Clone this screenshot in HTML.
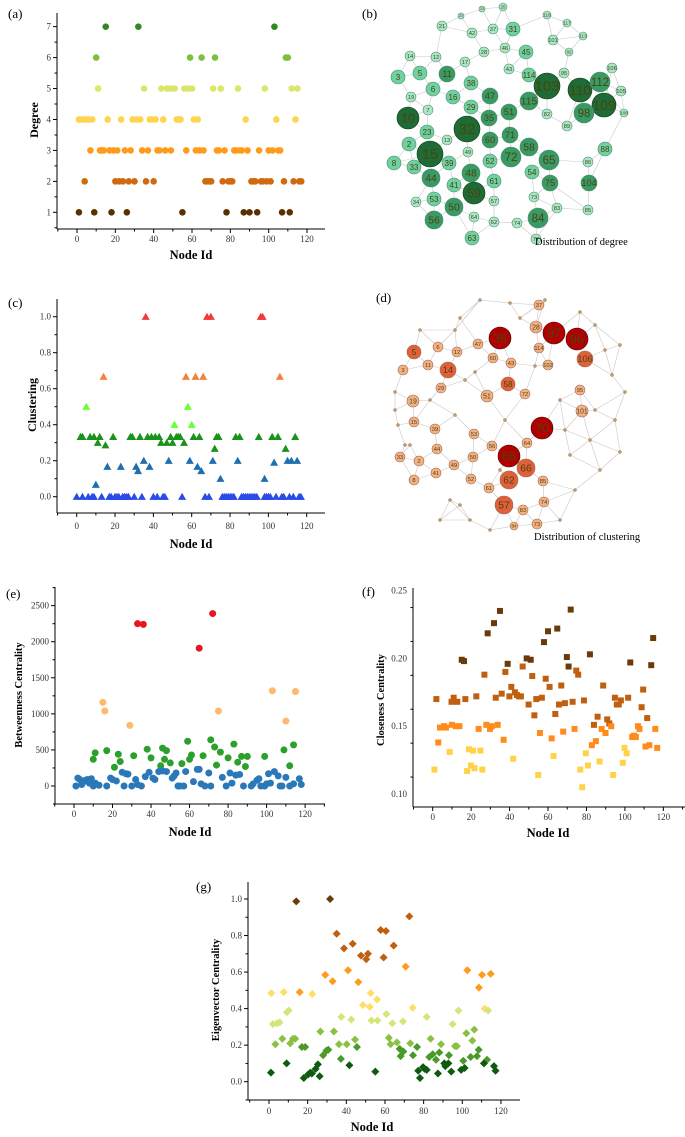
<!DOCTYPE html>
<html><head><meta charset="utf-8">
<style>
html,body{margin:0;padding:0;background:#fff;}
svg{display:block;font-family:"Liberation Serif",serif;}
</style></head>
<body>
<svg id="fig" width="685" height="1137" viewBox="0 0 685 1137" xmlns="http://www.w3.org/2000/svg"></svg>
<script>
// ---------- Panel (a) degree ----------
const degX7=[15,32,103];
const degX6=[10,59,65,72,109,110];
const degX5=[11,35,44,47,49,51,56,58,60,71,75,84,98,112,115];
const degX4=[1,2,4,5,6,8,16,23,29,31,33,38,39,41,45,52,53,54,61,63,88,104,114];
const degX3=[7,12,13,14,17,19,21,25,28,34,37,42,43,46,49,57,62,64,66,73,74,77,82,83,85,86,89,95,100,102,105,106];
const degX2=[4,20,22,24,27,30,36,40,67,68,69,70,76,79,80,81,91,92,93,96,97,99,101,108,113,116,117];
const degX1=[1,9,18,26,55,78,87,90,94,107,111];
// ---------- Panel (c) clustering ----------
const clRedX=[36,68,70,96,97];
const clOrangeX=[14,57,62,66,106];
const clLimeX=[5,58,51,60];
const clLimeY=[0.5,0.5,0.4,0.4];
const clGreenX=[2,3,7,9,12,19,28,29,33,37,39,41,43,49,52,53,54,61,64,73,74,83,85,95,102,105,114,11,44,47,50,56,15,72,109];
const clGreenY=[.333,.333,.333,.333,.333,.333,.333,.333,.333,.333,.333,.333,.333,.333,.333,.333,.333,.333,.333,.333,.333,.333,.333,.333,.333,.333,.333,.3,.3,.3,.3,.3,.286,.267,.267];
const clBlueX=[10,16,23,31,38,63,32,65,35,48,59,71,84,110,112,115,75,98,103];
const clBlueY=[.067,.167,.167,.167,.167,.167,.143,.143,.2,.2,.2,.2,.2,.2,.2,.2,.1,.1,.19];
const clZeroX=[0,3,6,8,9,13,17,18,20,21,22,24,25,26,27,30,34,40,42,45,46,55,67,69,76,77,78,79,80,81,82,86,87,88,89,90,91,92,93,94,98,99,100,101,104,107,108,111,113,116,117];
// ---------- Panel (e) betweenness ----------
const btRedX=[33,36,65,72];
const btRedY=[2250,2240,1910,2390];
const btOrX=[15,16,29,75,103,110,115];
const btOrY=[1160,1040,840,1040,1320,900,1310];
const btGrX=[10,11,17,21,23,24,31,38,40,45,46,47,48,50,56,59,60,61,67,71,73,74,76,80,83,85,87,89,90,99,109,112,114];
const btGrY=[370,460,490,260,440,340,420,510,390,280,525,370,490,320,310,620,370,430,420,640,540,290,470,390,580,330,410,270,410,410,500,280,570];
const btBlX=[1,2,3,4,5,6,7,8,9,10,11,13,17,19,20,22,25,26,27,28,30,32,33,35,37,39,41,42,44,46,48,51,52,53,54,55,57,58,62,64,65,66,68,70,71,77,79,81,82,84,86,88,92,93,95,96,97,99,100,101,102,104,106,107,108,110,112,114,117,118];
const btBlY=[0,110,90,20,60,80,90,40,100,0,40,10,0,110,90,70,190,0,170,165,0,90,20,0,130,190,110,90,200,210,200,110,140,180,0,0,0,200,60,230,230,30,0,180,0,120,0,180,40,150,160,0,0,30,80,100,0,0,30,170,40,200,140,0,0,120,0,30,100,20];
// ---------- Panel (f) closeness ----------
const ccDkX=[15.1,16.3,28.6,31.9,35,39,48.9,51,57.9,60,64.8,69.8,70.7,71.8,81.8,102.8,113.7,114.7];
const ccDkY=[.199,.198,.2185,.226,.235,.196,.200,.199,.212,.220,.222,.201,.194,.236,.203,.197,.195,.215];
const ccMdX=[1.9,9.8,10.9,12.8,17,22.7,26.9,32.8,35.9,37.8,39.9,40.9,42.8,43.8,44.9,45.9,46.8,49.9,51.8,52.9,53.9,56.8,58.8,60.8,63.8,65.7,66.9,68.8,72.8,74.7,75.7,78.7,83.9,85.8,88.7,90.8,91.9,94.8,95.8,96.8,97.9,101.7,108.7,109.5,111.6];
const ccMdY=[.170,.168,.171,.168,.170,.172,.188,.171,.174,.190,.172,.179,.175,.173,.172,.172,.194,.166,.187,.158,.170,.171,.185,.179,.159,.166,.180,.167,.168,.191,.188,.169,.151,.157,.180,.155,.152,.171,.166,.166,.169,.171,.164,.177,.156];
const ccOrX=[2.9,3.8,5.9,6.9,10,12,13.9,23.9,27.9,29.8,30.8,33.8,36.9,55.8,61.9,67.9,73.8,82.8,84.9,87.9,89.9,92.9,103.8,104.7,105.7,106.8,107.6,110.7,112.7,115.8,116.8];
const ccOrY=[.138,.149,.150,.149,.151,.150,.150,.148,.151,.148,.150,.151,.140,.145,.141,.146,.148,.136,.139,.148,.145,.150,.142,.143,.142,.150,.148,.135,.136,.148,.134];
const ccYlX=[0.9,8.8,17.9,18.9,19.9,21,21.8,24.8,25.8,41.9,54.9,62.9,76.8,77.8,79.7,80.8,86.8,93.9,98.9,99.8,100.9];
const ccYlY=[.118,.131,.117,.133,.121,.132,.119,.132,.118,.126,.114,.128,.118,.105,.130,.121,.124,.114,.123,.134,.130];
// ---------- Panel (g) eigenvector ----------
const evDkX=[14.1,31.6]; const evDkY=[.987,1.0];
const evBrX=[35,38.8,43.3,47.6,50.3,51.2,57.8,59.3,60.5,64.5,72.6];
const evBrY=[.81,.73,.755,.69,.67,.70,.83,.68,.825,.745,.905];
const evOrX=[15.9,29.1,32.9,40.9,46.2,70.7,102.6,108.6,110.2,114.7];
const evOrY=[.49,.585,.55,.61,.545,.63,.61,.515,.585,.59];
const evLyX=[1.2,7.6,22.4,48.6,52.1,52.6,55.9,74.3,111.6];
const evLyY=[.485,.49,.48,.42,.41,.485,.45,.405,.40];
const evPyX=[2,4.1,5.5,9.3,10.2,37.4,42.6,53,56.2,60.7,63.8,69.3,81.6,95,98,113.4];
const evPyY=[.315,.32,.325,.38,.39,.355,.34,.335,.335,.37,.32,.33,.355,.315,.39,.39];
const evLgX=[3.3,6.9,11,12.4,13.6,26.6,33.6,36.2,40.2,44.5,62,62.9,66.2,73.1,83.6,89,96.2,97.2,102.1,105.2,106.2];
const evLgY=[.205,.235,.21,.235,.235,.275,.275,.205,.205,.23,.24,.205,.215,.21,.235,.205,.195,.195,.265,.225,.285];
const evGrX=[17,18.7,28,29.7,30.7,37.2,45.5,67.6,68.1,69.5,74.5,76.6,84.7,82.9,86.4,88.1,93.1,100.5,104.3,107.6,108.5,112.8];
const evGrY=[.19,.19,.145,.17,.175,.125,.19,.18,.14,.165,.145,.19,.15,.135,.12,.16,.145,.115,.135,.14,.175,.12];
const evDgX=[1,9.1,18,20.3,21.4,22.2,24.1,25.3,26.2,41.6,55,77.2,78.1,79.7,80.5,81.6,87.4,90.7,91.2,92.8,94.3,99.4,101.2,111.2,116.4,117.2];
const evDgY=[.05,.1,.02,.04,.05,.045,.07,.095,.03,.09,.055,.06,.02,.08,.07,.065,.045,.1,.085,.1,.055,.065,.075,.1,.085,.06];
// ---------- Network panels ----------
const degLabels=[25,21,42,37,31,20,23,45,46,28,14,12,17,11,5,3,6,38,47,43,16,19,29,51,35,10,7,32,71,60,23,13,2,15,72,58,65,49,52,39,48,8,33,44,54,61,41,59,75,53,50,34,57,56,64,62,63,73,84,74,77,83,85,104,88,86,103,110,112,109,98,114,115,95,106,105,82,89,101,116,117,113,92,108];
const degNodeX=[503,442,472,493,513,461,482,526,505,484,410,436,465,447,420,398,433,471,490,509,453,411,471,509,489,408,428,467,510,490,427,447,409,430,511,529,549,468,490,449,471,394,414,431,532,494,454,474,550,434,454,416,494,434,474,494,472,534,538,517,536,557,588,589,605,588,547,580,600,604,584,529,529,564,612,621,547,567,553,547,567,583,569,624];
const degNodeY=[7,26,33,29,29,16,9,52,48,52,56,57,62,74,73,77,89,83,96,69,97,97,107,112,118,118,110,129,135,140,132,140,144,154,157,147,160,152,161,163,173,163,167,178,172,181,185,193,183,199,207,202,201,220,217,222,238,197,218,223,239,208,210,183,149,162,86,90,82,105,113,75,101,73,68,91,114,126,40,15,23,36,52,113];
const degNodeR=[4,5,5,5,7,3,3,7,5,5,5,5,5,8,7,7,7,7,8,5,7,5,7,8,8,11,5,13,8,8,7,5,7,13,10,9,10,5,7,7,9,7,7,9,7,7,7,11,8,7,9,5,5,9,5,5,7,5,10,5,5,5,5,8,7,5,13,12,10,12,10,7,9,5,5,5,5,5,5,4,4,4,4,4];
const cluLabels=[37,28,36,97,96,106,5,6,12,47,114,60,43,11,14,3,102,58,29,51,72,95,19,101,70,15,39,53,64,56,44,68,33,2,66,49,50,62,41,52,85,8,61,57,74,83,73,84];
const cluNodeX=[539,536,500,554,577,585,414,438,457,478,539,493,511,428,448,403,548,508,441,487,525,580,413,582,542,414,435,474,527,492,437,509,400,419,526,454,473,509,436,471,543,414,489,504,544,523,537,514];
const cluNodeY=[305,327,338,333,339,359,352,347,352,344,348,358,363,365,370,370,365,384,388,396,394,390,401,411,428,422,429,434,443,446,449,456,457,461,468,465,457,480,473,479,481,480,488,505,502,510,524,526];
const cluNodeR=[5,6,11,11,11,8,7,5,5,5,5,5,5,5,8,5,5,7,5,6,5,5,6,6,11,5,5,5,5,5,5,11,5,5,9,5,5,9,5,5,5,5,5,9,5,5,5,4];
const cluDotX=[420,460,480,510,520,545,580,595,612,615,620,600,575,560,490,470,450,405,398,395,430,455,505,560,590,565,475,455,535,605,625,620,595,460,440,465,500,570,395,410];
const cluDotY=[330,318,300,303,318,300,312,325,375,420,452,470,490,520,530,520,500,445,425,392,400,415,420,400,440,430,372,330,366,350,392,345,410,505,520,380,470,455,410,445];

const NS="http://www.w3.org/2000/svg";
const svg=document.getElementById('fig');
function mk(tag,attrs,parent){const e=document.createElementNS(NS,tag);for(const k in attrs)e.setAttribute(k,attrs[k]);(parent||svg).appendChild(e);return e;}
function txt(s,x,y,attrs,parent){const e=mk('text',Object.assign({x:x,y:y},attrs),parent);e.textContent=s;return e;}

function axes(name,o){
  const g=mk('g',{});
  
  
  mk('line',{x1:o.left,y1:o.top,x2:o.left,y2:o.bottom,stroke:'#000','stroke-width':1},g);
  mk('line',{x1:o.xl,y1:o.bottom,x2:o.right,y2:o.bottom,stroke:'#000','stroke-width':1},g);
  for(let v=o.xmin;v<=o.xmax+1e-9;v+=o.xminor){
    const X=o.xs(v);if(X<o.xl||X>o.right)continue;
    const major=Math.abs((v/o.xstep)-Math.round(v/o.xstep))<1e-6;
    mk('line',{x1:X,y1:o.bottom,x2:X,y2:o.bottom+(major?4:2.5),stroke:'#000','stroke-width':1},g);
  }
  o.xt.forEach(v=>{txt(String(v),o.xs(v),o.xly,{'font-size':9,'text-anchor':'middle',fill:'#333'},g);});
  for(let v=o.ymin;v<=o.ymax+1e-9;v+=o.yminor){
    const Y=o.ys(v);if(Y<o.top||Y>o.bottom)continue;
    const major=Math.abs((v/o.ystep)-Math.round(v/o.ystep))<1e-6;
    mk('line',{x1:o.left,y1:Y,x2:o.left-(major?4:2.5),y2:Y,stroke:'#000','stroke-width':1},g);
  }
  o.yt.forEach(v=>{txt(o.yfmt(v),o.left-6,o.ys(v)+3,{'font-size':9,'text-anchor':'end',fill:'#333'},g);});
  if(o.xlabel){const t=txt(o.xlabel,o.xlx,o.xlyy,{'font-size':12.5,'font-weight':'bold','text-anchor':'middle'});}
  const yt=txt(o.ylabel,0,0,{'font-size':o.ylsize||12,'font-weight':'bold','text-anchor':'middle',transform:`translate(${o.ylx},${o.yly}) rotate(-90)`});
  
  
  const pl=txt(o.panel,o.px,o.py,{'font-size':13});
  
  
}
function marker(shape,X,Y,color,s){
  if(shape==='c')return mk('circle',{cx:X,cy:Y,r:s,fill:color});
  if(shape==='t')return mk('polygon',{points:`${X-s},${Y+s*0.8} ${X+s},${Y+s*0.8} ${X},${Y-s}`,fill:color});
  if(shape==='s')return mk('rect',{x:X-s,y:Y-s,width:2*s,height:2*s,fill:color});
  if(shape==='d')return mk('polygon',{points:`${X},${Y-s} ${X+s},${Y} ${X},${Y+s} ${X-s},${Y}`,fill:color});
}
function series(name,xs,ys,xv,yv,shape,color,s){
  xv.forEach((x,i)=>{
    const y=Array.isArray(yv)?yv[i]:yv;
    const m=marker(shape,xs(x),ys(y),color,s);
    
    
  });
}
const x0_120=[0,20,40,60,80,100,120];

// (a)
const axA={xs:v=>77+v*1.9167,ys:v=>212.3-(v-1)*30.94};
axes('degree-chart',Object.assign({left:57,xl:57,right:325,top:13,bottom:229,xmin:-10,xmax:130,xstep:20,xminor:10,xt:x0_120,xly:242,ymin:0.5,ymax:7.5,ystep:1,yminor:0.5,yt:[1,2,3,4,5,6,7],yfmt:v=>String(v),xlabel:'Node Id',xlx:191,xlyy:259,ylabel:'Degree',ylx:38,yly:120,panel:'(a)',px:8,py:18},axA));
[[degX7,7,'#2e8b1e'],[degX6,6,'#7fbf3f'],[degX5,5,'#d9e86a'],[degX4,4,'#ffd54f'],[degX3,3,'#ff9a1a'],[degX2,2,'#cf6a0e'],[degX1,1,'#5a3000']].forEach(a=>series('degree-'+a[1],axA.xs,axA.ys,a[0],a[1],'c',a[2],3.3));

// (c)
const axC={xs:v=>76.7+v*1.9167,ys:v=>496.7-v*180};
axes('clustering-chart',Object.assign({left:57,xl:57,right:325,top:299,bottom:513,xmin:-10,xmax:130,xstep:20,xminor:10,xt:x0_120,xly:529,ymin:-0.1,ymax:1.1,ystep:0.2,yminor:0.1,yt:[0,0.2,0.4,0.6,0.8,1.0],yfmt:v=>v.toFixed(1),xlabel:'Node Id',xlx:191,xlyy:548,ylabel:'Clustering',ylx:36,yly:405,panel:'(c)',px:8,py:307},axC));
series('clustering-one',axC.xs,axC.ys,clRedX,1.0,'t','#f03a3a',4);
series('clustering-two-thirds',axC.xs,axC.ys,clOrangeX,0.667,'t','#f0843a',4);
series('clustering-half',axC.xs,axC.ys,clLimeX,clLimeY,'t','#66ff33',4);
series('clustering-third',axC.xs,axC.ys,clGreenX,clGreenY,'t','#1a931a',4);
series('clustering-low',axC.xs,axC.ys,clBlueX,clBlueY,'t','#1f6fb0',4);
series('clustering-zero',axC.xs,axC.ys,clZeroX,0,'t','#2a4be8',4);

// (e)
const axE={xs:v=>74+v*1.926,ys:v=>786-v*0.07214};
axes('betweenness-chart',Object.assign({left:55,xl:53,right:325,top:587,bottom:804,xmin:-10,xmax:130,xstep:20,xminor:10,xt:x0_120,xly:817,ymin:-250,ymax:2750,ystep:500,yminor:250,yt:[0,500,1000,1500,2000,2500],yfmt:v=>String(v),xlabel:'Node Id',xlx:190,xlyy:836,ylabel:'Betweenness Centrality',ylsize:10.5,ylx:22,yly:695,panel:'(e)',px:6,py:598},axE));
series('betweenness-high',axE.xs,axE.ys,btRedX,btRedY,'c','#e8141e',3.5);
series('betweenness-upper',axE.xs,axE.ys,btOrX,btOrY,'c','#ffb870',3.5);
series('betweenness-mid',axE.xs,axE.ys,btGrX,btGrY,'c','#2ca02c',3.5);
series('betweenness-low',axE.xs,axE.ys,btBlX,btBlY,'c','#2a78b8',3.5);

// (f)
const axF={xs:v=>432.7+v*1.922,ys:v=>794-(v-0.10)*1356};
axes('closeness-chart',Object.assign({left:413,xl:413,right:685,top:588,bottom:807,xmin:-10,xmax:140,xstep:20,xminor:10,xt:x0_120,xly:820,ymin:0.0875,ymax:0.25,ystep:0.05,yminor:0.025,yt:[0.10,0.15,0.20,0.25],yfmt:v=>v.toFixed(2),xlabel:'Node Id',xlx:548,xlyy:837,ylabel:'Closeness Centrality',ylsize:10.5,ylx:384,yly:700,panel:'(f)',px:362,py:596},axF));
series('closeness-top',axF.xs,axF.ys,ccDkX,ccDkY,'s','#6b3a0a',3);
series('closeness-upper',axF.xs,axF.ys,ccMdX,ccMdY,'s','#c0600e',3);
series('closeness-mid',axF.xs,axF.ys,ccOrX,ccOrY,'s','#ff8c1a',3);
series('closeness-low',axF.xs,axF.ys,ccYlX,ccYlY,'s','#ffd24a',3);

// (g)
const axG={xs:v=>269+v*1.933,ys:v=>1081.7-v*182.7};
axes('eigenvector-chart',Object.assign({left:248,xl:248,right:520,top:882,bottom:1100,xmin:-10,xmax:130,xstep:20,xminor:10,xt:x0_120,xly:1114,ymin:-0.1,ymax:1.1,ystep:0.2,yminor:0.1,yt:[0,0.2,0.4,0.6,0.8,1.0],yfmt:v=>v.toFixed(1),xlabel:'Node Id',xlx:372,xlyy:1131,ylabel:'Eigenvector Centrality',ylsize:10.5,ylx:219,yly:990,panel:'(g)',px:196,py:891},axG));
series('eigen-top',axG.xs,axG.ys,evDkX,evDkY,'d','#6b3a0a',4);
series('eigen-high',axG.xs,axG.ys,evBrX,evBrY,'d','#c0600e',4);
series('eigen-upper',axG.xs,axG.ys,evOrX,evOrY,'d','#ff9a1a',4);
series('eigen-mid',axG.xs,axG.ys,evLyX,evLyY,'d','#ffdd66',4);
series('eigen-midlow',axG.xs,axG.ys,evPyX,evPyY,'d','#d4e67a',4);
series('eigen-low',axG.xs,axG.ys,evLgX,evLgY,'d','#8cc044',4);
series('eigen-lower',axG.xs,axG.ys,evGrX,evGrY,'d','#4a9a2a',4);
series('eigen-lowest',axG.xs,axG.ys,evDgX,evDgY,'d','#0e5a0e',4);

// Networks
function network(name,labels,X,Y,R,colorFn,strokeFn,k){
  const g=mk('g',{});
  
  
  const n=X.length, seen={};
  for(let i=0;i<n;i++){
    const d=[];for(let j=0;j<n;j++)if(j!==i)d.push([Math.hypot(X[i]-X[j],Y[i]-Y[j]),j]);
    d.sort((a,b)=>a[0]-b[0]);
    for(let q=0;q<k;q++){const j=d[q][1];const key=Math.min(i,j)+'-'+Math.max(i,j);if(seen[key])continue;seen[key]=1;
      mk('line',{x1:X[i],y1:Y[i],x2:X[j],y2:Y[j],stroke:'#c8c8c8','stroke-width':0.6},g);}
  }
  for(let i=0;i<n;i++){
    const c=mk('circle',{cx:X[i],cy:Y[i],r:R[i],fill:colorFn(R[i]),stroke:strokeFn(R[i]),'stroke-width':0.6},g);
    
    
    if(labels[i]!==''&&labels[i]!==undefined&&R[i]>=3)txt(String(labels[i]),X[i],Y[i]+R[i]*0.4,{'font-size':Math.max(3,R[i]*1.15),'font-family':'Liberation Sans, sans-serif','text-anchor':'middle',fill:'#4a4410'},g);
  }
}
network('degree-network',degLabels,degNodeX,degNodeY,degNodeR,r=>r>=11?'#1f6b35':r>=8?'#3a9a65':r>=6?'#6fd0a2':'#a8e8c8',r=>r>=11?'#0a3a10':'#4a8a6a',3);
const cX=cluNodeX.concat(cluDotX), cY=cluNodeY.concat(cluDotY), cR=cluNodeR.concat(cluDotX.map(()=>1.3));
network('clustering-network',cluLabels,cX,cY,cR,r=>r>=10?'#b20000':r>=7?'#e0603a':r>=3?'#f4b083':'#c8b070',r=>r>=10?'#400000':'#9a6a50',3);
const t1=txt('Distribution of degree',535,245,{'font-size':10.5});


const t2=txt('Distribution of clustering',534,540,{'font-size':10.5});


const pb=txt('(b)',362,18,{'font-size':13});


const pd=txt('(d)',376,302,{'font-size':13});


</script>
</body></html>
